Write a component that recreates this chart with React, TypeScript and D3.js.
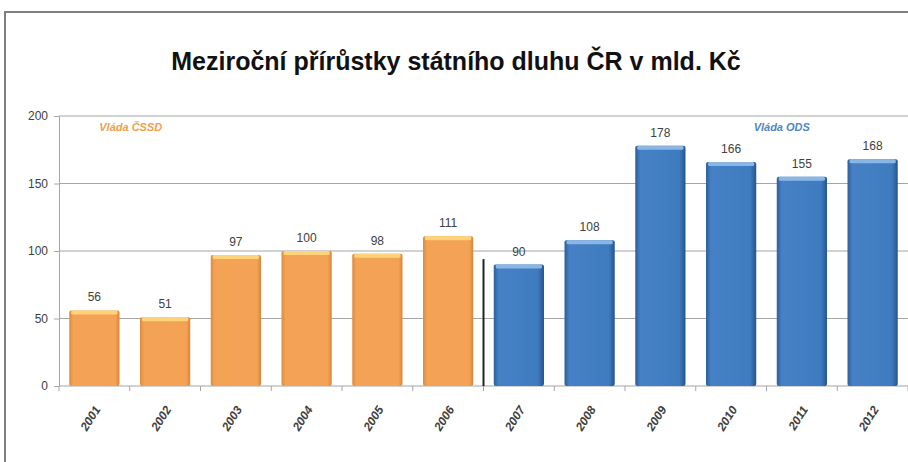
import React, { useEffect, useRef } from 'react';
import * as d3 from 'd3';

const years = ['2001', '2002', '2003', '2004', '2005', '2006', '2007', '2008', '2009', '2010', '2011', '2012'];
const increments = [56, 51, 97, 100, 98, 111, 90, 108, 178, 166, 155, 168];
const yTicks = [0, 50, 100, 150, 200];
const governments = ['ČSSD', 'ČSSD', 'ČSSD', 'ČSSD', 'ČSSD', 'ČSSD', 'ODS', 'ODS', 'ODS', 'ODS', 'ODS', 'ODS'];
const govLabels = ['Vláda ČSSD', 'Vláda ODS'];
const separatorValue = 94;

const W = 908;
const H = 462;
const margin = { top: 116, right: 0, bottom: 76, left: 59 };
const font = '"Liberation Sans Narrow", "Liberation Sans", Arial, sans-serif';

const App: React.FC = () => {
  const ref = useRef<SVGSVGElement>(null);

  useEffect(() => {
    const svg = d3.select(ref.current);
    svg.selectAll('*').remove();

    const width = W - margin.left - margin.right;
    const height = H - margin.top - margin.bottom;

    const defs = svg.append('defs');
    const orange = defs.append('linearGradient').attr('id', 'gOrange').attr('x1', 0).attr('x2', 1).attr('y1', 0).attr('y2', 0);
    orange.append('stop').attr('offset', '0%').attr('stop-color', '#e08a3a');
    orange.append('stop').attr('offset', '8%').attr('stop-color', '#f3a256');
    orange.append('stop').attr('offset', '92%').attr('stop-color', '#f3a256');
    orange.append('stop').attr('offset', '100%').attr('stop-color', '#d9853a');
    const blue = defs.append('linearGradient').attr('id', 'gBlue').attr('x1', 0).attr('x2', 1).attr('y1', 0).attr('y2', 0);
    blue.append('stop').attr('offset', '0%').attr('stop-color', '#2c5f9c');
    blue.append('stop').attr('offset', '10%').attr('stop-color', '#4581c4');
    blue.append('stop').attr('offset', '88%').attr('stop-color', '#3f7bbf');
    blue.append('stop').attr('offset', '100%').attr('stop-color', '#26548c');

    // frame
    svg.append('path')
      .attr('d', `M5,${H} L5,12 L${W},12`)
      .attr('fill', 'none')
      .attr('stroke', '#7f7f7f')
      .attr('stroke-width', 2);

    svg.append('text')
      .attr('x', 456)
      .attr('y', 70)
      .attr('text-anchor', 'middle')
      .attr('font-family', font)
      .attr('font-weight', 'bold')
      .attr('font-size', 25)
      .attr('fill', '#111')
      .text('Meziroční přírůstky státního dluhu ČR v mld. Kč');

    const g = svg.append('g').attr('transform', `translate(${margin.left},${margin.top})`);

    const x = d3.scaleBand<string>().domain(years).range([0, width]).paddingInner(0.29).paddingOuter(0.145);
    const y = d3.scaleLinear().domain([0, 200]).range([height, 0]);

    g.selectAll('.grid')
      .data(yTicks)
      .enter().append('line')
      .attr('x1', 0)
      .attr('x2', width)
      .attr('y1', d => y(d))
      .attr('y2', d => y(d))
      .attr('stroke', '#a6a6a6')
      .attr('stroke-width', 1.2);

    const yAxis = d3.axisLeft(y).tickValues(yTicks).tickSize(5).tickPadding(6);
    const ya = g.append('g').call(yAxis);
    ya.select('.domain').attr('stroke', '#a6a6a6');
    ya.selectAll('line').attr('stroke', '#a6a6a6');
    ya.selectAll('text').attr('font-family', font).attr('font-size', 12).attr('fill', '#404040');

    // category ticks between bands
    const step = x.step();
    g.selectAll('.xtick')
      .data(d3.range(years.length + 1))
      .enter().append('line')
      .attr('x1', i => i * step)
      .attr('x2', i => i * step)
      .attr('y1', height)
      .attr('y2', height + 5)
      .attr('stroke', '#a6a6a6');

    const data = years.map((yr, i) => ({ year: yr, value: increments[i], gov: governments[i] }));

    const bars = g.selectAll('.bar').data(data).enter().append('g');
    bars.append('rect')
      .attr('x', d => x(d.year)!)
      .attr('width', x.bandwidth())
      .attr('y', d => y(d.value))
      .attr('height', d => height - y(d.value))
      .attr('rx', 2)
      .attr('fill', d => d.gov === 'ODS' ? 'url(#gBlue)' : 'url(#gOrange)');
    bars.append('rect')
      .attr('x', d => x(d.year)! + 2)
      .attr('width', x.bandwidth() - 4)
      .attr('y', d => y(d.value))
      .attr('height', 4)
      .attr('rx', 1.5)
      .attr('fill', d => d.gov === 'ODS' ? '#8ab6e6' : '#ffd37a');

    bars.append('text')
      .attr('x', d => x(d.year)! + x.bandwidth() / 2)
      .attr('y', d => y(d.value) - 9)
      .attr('text-anchor', 'middle')
      .attr('font-family', font)
      .attr('font-size', 12)
      .attr('fill', '#404040')
      .text(d => d.value);

    // x labels
    g.selectAll('.xl')
      .data(years)
      .enter().append('text')
      .attr('transform', d => `translate(${x(d)! + x.bandwidth() / 2 + 3},${height + 21}) rotate(-58)`)
      .attr('text-anchor', 'end')
      .attr('dy', '0.35em')
      .attr('font-family', font)
      .attr('font-weight', 'bold')
      .attr('font-style', 'italic')
      .attr('font-size', 12)
      .attr('fill', '#404040')
      .text(d => d);

    // government separator
    const firstOds = governments.indexOf('ODS');
    const sx = firstOds * step;
    g.append('line')
      .attr('x1', sx)
      .attr('x2', sx)
      .attr('y1', y(separatorValue))
      .attr('y2', height)
      .attr('stroke', '#222')
      .attr('stroke-width', 2);

    g.append('text')
      .attr('x', x(years[0])! + 30)
      .attr('y', 15)
      .attr('font-family', font)
      .attr('font-style', 'italic')
      .attr('font-weight', 'bold')
      .attr('font-size', 11)
      .attr('fill', '#f0a04a')
      .text(govLabels[0]);

    g.append('text')
      .attr('x', x(years[10])! + 5)
      .attr('y', 15)
      .attr('text-anchor', 'middle')
      .attr('font-family', font)
      .attr('font-style', 'italic')
      .attr('font-weight', 'bold')
      .attr('font-size', 11)
      .attr('fill', '#4f86c6')
      .text(govLabels[1]);
  }, []);

  return (
    <svg
      ref={ref}
      width={W}
      height={H}
      style={{ position: 'absolute', left: 0, top: 0, background: '#fff' }}
    />
  );
};

export default App;
